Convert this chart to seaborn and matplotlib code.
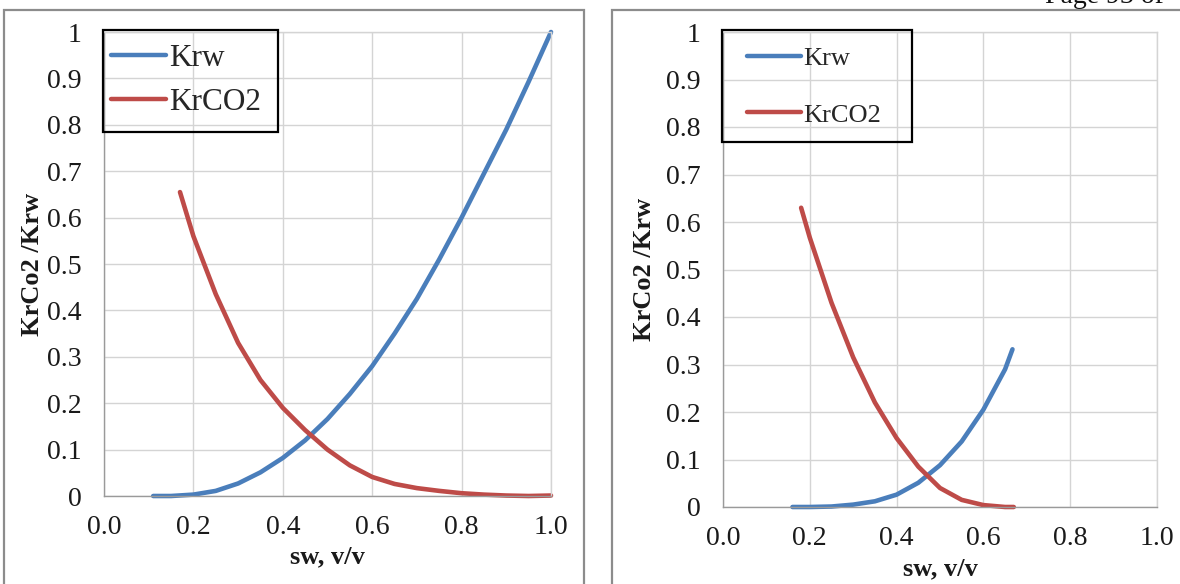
import matplotlib
matplotlib.use("Agg")
import matplotlib.pyplot as plt
import seaborn as sns
import pandas as pd
from matplotlib.patches import Rectangle

# ---- data ----
left_sw_krw = [0.11, 0.15, 0.20, 0.25, 0.30, 0.35, 0.40, 0.45, 0.50, 0.55, 0.60, 0.65, 0.70, 0.75, 0.80, 0.85, 0.90, 0.95, 1.00]
left_krw    = [0.0, 0.0, 0.003, 0.011, 0.027, 0.051, 0.082, 0.120, 0.166, 0.220, 0.280, 0.350, 0.425, 0.510, 0.600, 0.695, 0.790, 0.893, 1.000]
left_sw_co2 = [0.17, 0.20, 0.25, 0.30, 0.35, 0.40, 0.45, 0.50, 0.55, 0.60, 0.65, 0.70, 0.75, 0.80, 0.85, 0.90, 0.95, 1.00]
left_krco2  = [0.655, 0.560, 0.435, 0.330, 0.250, 0.190, 0.142, 0.100, 0.066, 0.041, 0.026, 0.017, 0.011, 0.006, 0.003, 0.001, 0.0, 0.001]

right_sw_krw = [0.16, 0.20, 0.25, 0.30, 0.35, 0.40, 0.45, 0.50, 0.55, 0.60, 0.65, 0.667]
right_krw    = [0.0, 0.0, 0.001, 0.005, 0.012, 0.026, 0.051, 0.088, 0.138, 0.205, 0.290, 0.332]
right_sw_co2 = [0.18, 0.20, 0.25, 0.30, 0.35, 0.40, 0.45, 0.50, 0.55, 0.60, 0.65, 0.67]
right_krco2  = [0.630, 0.567, 0.430, 0.315, 0.220, 0.145, 0.085, 0.040, 0.015, 0.004, 0.0, 0.0]

series_names = ["Krw", "KrCO2"]
x_ticks = [0.0, 0.2, 0.4, 0.6, 0.8, 1.0]
y_ticks = [0, 0.1, 0.2, 0.3, 0.4, 0.5, 0.6, 0.7, 0.8, 0.9, 1.0]
x_label = "sw, v/v"
y_label = "KrCo2 /Krw"
page_text = "Page 93 of"

sns.set_theme(style="white")
plt.rcParams['font.family'] = ['Liberation Serif', 'DejaVu Serif']

W, H = 1180, 584
fig = plt.figure(figsize=(W / 100, H / 100), dpi=100)

BLUE = "#4a7ebb"
RED = "#be4b48"
GRID = "#d4d4d4"


def make_df(sw_w, kw, sw_c, kc):
    d1 = pd.DataFrame({"sw": sw_w, "kr": kw, "series": series_names[0]})
    d2 = pd.DataFrame({"sw": sw_c, "kr": kc, "series": series_names[1]})
    return pd.concat([d1, d2], ignore_index=True)


def draw(ax, df, ylab_x, xlab_y, leg_anchor, leg_spacing, leg_size, leg_hlen, frame_box):
    sns.lineplot(data=df, x="sw", y="kr", hue="series",
                 palette={series_names[0]: BLUE, series_names[1]: RED},
                 linewidth=3.3, ax=ax, sort=False, estimator=None,
                 solid_capstyle="round", solid_joinstyle="round")
    for ln in ax.lines:
        ln.set_clip_on(False)
    ax.set_xlim(0, 1)
    ax.set_ylim(0, 1)
    ax.set_xticks(x_ticks)
    ax.set_xticklabels([f"{v:.1f}" for v in x_ticks])
    ax.set_yticks(y_ticks)
    ax.set_yticklabels([f"{v:g}" for v in y_ticks])
    ax.grid(True, color=GRID, linewidth=1.0)
    ax.set_axisbelow(True)
    ax.tick_params(axis="both", length=0, labelsize=20, colors="#1a1a1a")
    ax.tick_params(axis="x", pad=14)
    ax.tick_params(axis="y", pad=16)
    for s in ["top", "right"]:
        ax.spines[s].set_color(GRID)
        ax.spines[s].set_linewidth(1.0)
    for s in ["bottom", "left"]:
        ax.spines[s].set_color("#9a9a9a")
        ax.spines[s].set_linewidth(1.0)
    ax.set_xlabel(x_label, fontsize=19, fontweight="bold", color="#1a1a1a")
    ax.set_ylabel(y_label, fontsize=19, fontweight="bold", color="#1a1a1a")
    ax.yaxis.set_label_coords(ylab_x, 0.5)
    ax.xaxis.set_label_coords(0.5, xlab_y)
    handles, labels = ax.get_legend_handles_labels()
    leg = ax.legend(handles, labels, loc="center left", bbox_to_anchor=leg_anchor,
                    borderaxespad=0, borderpad=0, fontsize=leg_size, frameon=False,
                    handletextpad=0.08, handlelength=leg_hlen, labelspacing=leg_spacing)
    for ln in leg.get_lines():
        ln.set_linewidth(3.2)
        ln.set_solid_capstyle("round")
    x0, y0, x1, y1 = frame_box
    ax.add_patch(Rectangle((x0, y0), x1 - x0, y1 - y0, transform=ax.transAxes,
                           fill=False, edgecolor="black", linewidth=1.6,
                           clip_on=False, zorder=5))


ax1 = fig.add_axes([104 / W, 1 - 496 / H, 447 / W, 464 / H])
draw(ax1, make_df(left_sw_krw, left_krw, left_sw_co2, left_krco2),
     ylab_x=-0.135, xlab_y=-0.107, leg_anchor=(0.016, 0.896), leg_spacing=0.48,
     leg_size=22.5, leg_hlen=1.76, frame_box=(-0.003, 0.784, 0.39, 1.004))

ax2 = fig.add_axes([723 / W, 1 - 507 / H, 434 / W, 475 / H])
draw(ax2, make_df(right_sw_krw, right_krw, right_sw_co2, right_krco2),
     ylab_x=-0.154, xlab_y=-0.105, leg_anchor=(0.056, 0.885), leg_spacing=1.25,
     leg_size=19, leg_hlen=2.05, frame_box=(-0.003, 0.768, 0.435, 1.004))

# page frames
fig.patches.append(Rectangle((4 / W, -0.05), 580 / W, 1.05 - 10 / H,
                             transform=fig.transFigure, fill=False,
                             edgecolor="#8c8c8c", linewidth=1.6))
fig.patches.append(Rectangle((612 / W, -0.05), 0.6, 1.05 - 10 / H,
                             transform=fig.transFigure, fill=False,
                             edgecolor="#8c8c8c", linewidth=1.6))
fig.text(1045 / W, 1 - 3 / H, page_text, fontsize=20, va="baseline", ha="left",
         color="#111111")

fig.savefig("out.png", dpi=100)
